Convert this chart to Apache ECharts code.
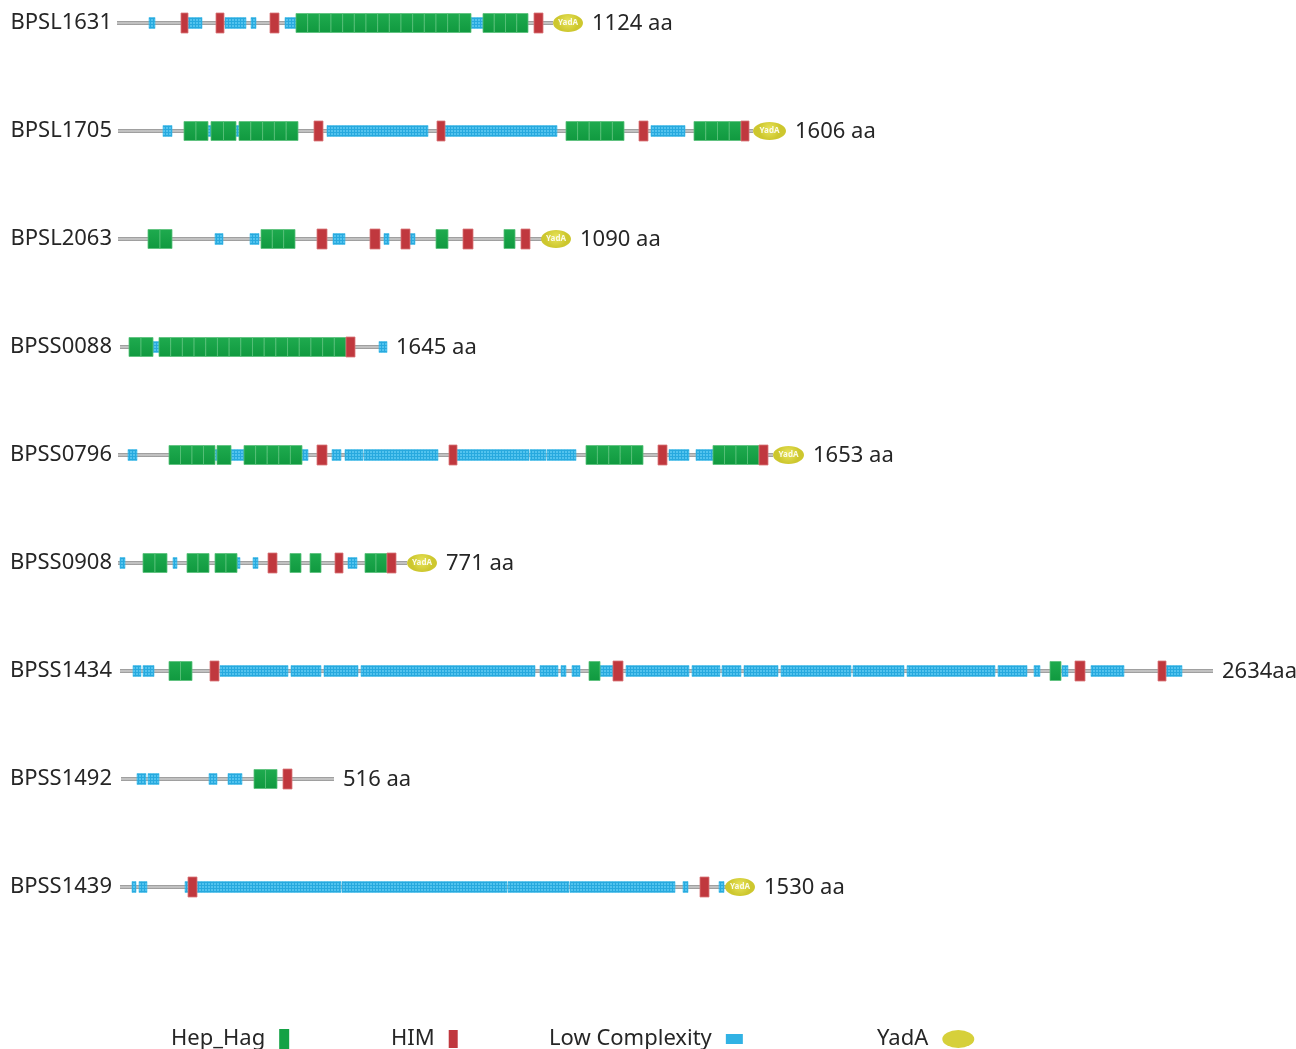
<!DOCTYPE html>
<html>
<head>
<meta charset="utf-8">
<title>Hep_Hag domain architecture</title>
<script src="https://cdn.jsdelivr.net/npm/echarts@6/dist/echarts.min.js"></script>
<style>
  html, body { margin: 0; padding: 0; background: #fff; }
  #chart { width: 1296px; height: 1049px; }
</style>
</head>
<body>
<div id="chart"></div>
<script>
    const proteins = ['BPSL1631', 'BPSL1705', 'BPSL2063', 'BPSS0088', 'BPSS0796',
        'BPSS0908', 'BPSS1434', 'BPSS1492', 'BPSS1439'];
    const lengthLabels = ['1124 aa', '1606 aa', '1090 aa', '1645 aa', '1653 aa',
        '771 aa', '2634aa', '516 aa', '1530 aa'];

    // [row, start, end] of the grey backbone line
    const backbone = [
        [0, 117, 553], [1, 118, 753], [2, 118, 542], [3, 120, 379], [4, 118, 773],
        [5, 118, 407], [6, 120, 1213], [7, 121, 334], [8, 120, 726]
    ];

    // [row, start, end, number of repeats]
    const hepHag = [
        [0, 296, 471, 15], [0, 483, 528, 4],
        [1, 184, 208, 2], [1, 211, 236, 2], [1, 239, 298, 5], [1, 566, 624, 5], [1, 694, 741, 4],
        [2, 148, 172, 2], [2, 261, 295, 3], [2, 436, 448, 1], [2, 504, 515, 1],
        [3, 129, 153, 2], [3, 159, 346, 16],
        [4, 169, 215, 4], [4, 217, 231, 1], [4, 244, 302, 5], [4, 586, 643, 5], [4, 713, 759, 4],
        [5, 143, 167, 2], [5, 187, 209, 2], [5, 215, 237, 2], [5, 290, 301, 1], [5, 310, 321, 1], [5, 365, 387, 2],
        [6, 169, 192, 2], [6, 589, 600, 1], [6, 1050, 1061, 1],
        [7, 254, 277, 2]
    ];

    // [row, start, end]
    const him = [
        [0, 181, 188], [0, 216, 224], [0, 270, 279], [0, 534, 543],
        [1, 314, 323], [1, 437, 445], [1, 639, 648], [1, 741, 749],
        [2, 317, 327], [2, 370, 380], [2, 401, 410], [2, 463, 473], [2, 521, 530],
        [3, 346, 355],
        [4, 317, 327], [4, 449, 457], [4, 658, 667], [4, 759, 768],
        [5, 268, 277], [5, 335, 343], [5, 387, 396],
        [6, 210, 219], [6, 613, 623], [6, 1075, 1085], [6, 1158, 1166],
        [7, 283, 292],
        [8, 188, 197], [8, 700, 709]
    ];

    const lowComplexity = [
        [0, 149, 155], [0, 188, 202], [0, 225, 246], [0, 251, 256], [0, 285, 296], [0, 471, 483],
        [1, 163, 172], [1, 206, 212], [1, 235, 240], [1, 327, 428], [1, 445, 557], [1, 651, 685],
        [2, 215, 223], [2, 250, 259], [2, 333, 345], [2, 384, 389], [2, 410, 415],
        [3, 153, 159], [3, 379, 387],
        [4, 128, 137], [4, 214, 218], [4, 231, 244], [4, 302, 308], [4, 332, 341], [4, 345, 363],
        [4, 364, 438], [4, 457, 529], [4, 530, 546], [4, 547, 576], [4, 669, 689], [4, 696, 713],
        [5, 120, 125], [5, 173, 177], [5, 237, 240], [5, 253, 258], [5, 348, 357],
        [6, 133, 141], [6, 143, 154], [6, 220, 288], [6, 291, 321], [6, 324, 358], [6, 361, 535],
        [6, 540, 558], [6, 561, 566], [6, 572, 580], [6, 600, 613], [6, 626, 689], [6, 692, 720],
        [6, 722, 741], [6, 744, 778], [6, 781, 851], [6, 853, 904], [6, 907, 995], [6, 998, 1027],
        [6, 1034, 1040], [6, 1062, 1068], [6, 1091, 1124], [6, 1166, 1182],
        [7, 137, 146], [7, 148, 159], [7, 209, 217], [7, 228, 242],
        [8, 132, 136], [8, 139, 147], [8, 185, 189], [8, 197, 341], [8, 342, 507], [8, 508, 569],
        [8, 570, 675], [8, 683, 688], [8, 719, 724]
    ];

    const yadA = [
        [0, 553, 583], [1, 753, 786], [2, 541, 571], [4, 773, 804], [5, 407, 437], [8, 725, 755]
    ];

    const FONT = 'Noto Sans';
    const GREEN = '#15a246', RED = '#c0383e', BLUE = '#31b2e4', YELLOW = '#d6d03a';

    // small mesh texture for the low complexity regions
    let pat = document.createElement('canvas');
    pat.width = 3;
    pat.height = 3;
    let pctx = pat.getContext('2d');
    pctx.fillStyle = '#52c3ee';
    pctx.fillRect(0, 0, 3, 3);
    pctx.fillStyle = '#27a9de';
    pctx.fillRect(0, 0, 3, 1);
    pctx.fillRect(0, 0, 1, 3);

    // right end of every row, for the length label
    let rowEnd = backbone.map(b => b[2]);
    [hepHag, him, lowComplexity, yadA].forEach(list => list.forEach(d => {
        rowEnd[d[0]] = Math.max(rowEnd[d[0]], d[2]);
    }));
    const lengthData = lengthLabels.map((t, i) => [i, rowEnd[i], rowEnd[i]]);

    function span(api) {
        let a = api.coord([api.value(1), api.value(0)]);
        let b = api.coord([api.value(2), api.value(0)]);
        return {x: a[0], y: a[1], w: b[0] - a[0]};
    }

    let dom = document.getElementById('chart');
    let myChart = echarts.init(dom);

    let legendBase = {
        top: 1028,
        padding: 0,
        align: 'right',
        selectedMode: false,
        textStyle: {fontFamily: FONT, fontSize: 22, color: '#262626', padding: [0, 9, 0, 0]}
    };

    let option = {
        animation: false,
        grid: {left: 0, right: 0, top: 23, bottom: 162},
        xAxis: {type: 'value', min: 0, max: 1296, show: false},
        yAxis: {
            type: 'category',
            data: proteins,
            inverse: true,
            boundaryGap: false,
            offset: -118,
            axisLine: {show: false},
            axisTick: {show: false},
            splitLine: {show: false},
            axisLabel: {margin: 6, fontFamily: FONT, fontSize: 22, color: '#262626'}
        },
        legend: [
            Object.assign({}, legendBase, {
                left: 171, data: [{name: 'Hep_Hag', icon: 'rect'}], itemWidth: 10, itemHeight: 20
            }),
            Object.assign({}, legendBase, {
                left: 391, data: [{name: 'HIM', icon: 'rect'}], itemWidth: 9, itemHeight: 18
            }),
            Object.assign({}, legendBase, {
                left: 549, data: [{name: 'Low Complexity', icon: 'rect'}], itemWidth: 17, itemHeight: 10
            }),
            Object.assign({}, legendBase, {
                left: 877,
                data: [{name: 'YadA', icon: 'path://M0,9a16,9 0 1,0 32,0a16,9 0 1,0 -32,0z'}],
                itemWidth: 32, itemHeight: 18
            })
        ],
        series: [
            {
                name: 'backbone',
                type: 'custom',
                encode: {x: [1, 2], y: 0},
                data: backbone,
                renderItem: function (params, api) {
                    let s = span(api);
                    return {
                        type: 'rect',
                        shape: {x: s.x, y: s.y - 2, width: s.w, height: 4},
                        style: {
                            fill: new echarts.graphic.LinearGradient(0, 0, 0, 1, [
                                {offset: 0, color: '#8f8f8f'},
                                {offset: 0.5, color: '#d2d2d2'},
                                {offset: 1, color: '#8f8f8f'}
                            ])
                        }
                    };
                }
            },
            {
                name: 'Low Complexity',
                type: 'custom',
                itemStyle: {color: BLUE},
                encode: {x: [1, 2], y: 0},
                data: lowComplexity,
                renderItem: function (params, api) {
                    let s = span(api);
                    return {
                        type: 'rect',
                        shape: {x: s.x, y: s.y - 5.5, width: s.w, height: 11},
                        style: {fill: {image: pat, repeat: 'repeat'}, stroke: '#3fb8e6', lineWidth: 0.6}
                    };
                }
            },
            {
                name: 'Hep_Hag',
                type: 'custom',
                itemStyle: {color: GREEN},
                encode: {x: [1, 2], y: 0},
                data: hepHag,
                renderItem: function (params, api) {
                    let s = span(api);
                    let n = api.value(3);
                    let bw = s.w / n;
                    let kids = [];
                    for (let k = 0; k < n; k++) {
                        kids.push({
                            type: 'rect',
                            shape: {x: s.x + k * bw, y: s.y - 9.5, width: bw, height: 19},
                            style: {
                                fill: new echarts.graphic.LinearGradient(0, 0, 0, 1, [
                                    {offset: 0, color: '#1fab4f'},
                                    {offset: 1, color: '#10993f'}
                                ]),
                                stroke: '#5bc27b',
                                lineWidth: 0.8
                            }
                        });
                    }
                    return {type: 'group', children: kids};
                }
            },
            {
                name: 'HIM',
                type: 'custom',
                itemStyle: {color: RED},
                encode: {x: [1, 2], y: 0},
                data: him,
                renderItem: function (params, api) {
                    let s = span(api);
                    return {
                        type: 'rect',
                        shape: {x: s.x, y: s.y - 10, width: s.w, height: 20},
                        style: {fill: RED, stroke: '#d9767a', lineWidth: 0.8}
                    };
                }
            },
            {
                name: 'YadA',
                type: 'custom',
                itemStyle: {color: YELLOW},
                encode: {x: [1, 2], y: 0},
                data: yadA,
                renderItem: function (params, api) {
                    let s = span(api);
                    return {
                        type: 'group',
                        children: [
                            {
                                type: 'ellipse',
                                shape: {cx: s.x + s.w / 2, cy: s.y, rx: s.w / 2, ry: 9},
                                style: {
                                    fill: new echarts.graphic.RadialGradient(0.5, 0.4, 0.6, [
                                        {offset: 0, color: '#e8e35a'},
                                        {offset: 1, color: '#cdc72e'}
                                    ])
                                }
                            },
                            {
                                type: 'text',
                                style: {
                                    x: s.x + s.w / 2, y: s.y, text: 'YadA',
                                    align: 'center', verticalAlign: 'middle',
                                    fill: '#fbfbe8', font: 'bold 8px "' + FONT + '"'
                                }
                            }
                        ]
                    };
                }
            },
            {
                name: 'length',
                type: 'custom',
                encode: {x: [1, 2], y: 0},
                data: lengthData,
                renderItem: function (params, api) {
                    let s = span(api);
                    return {
                        type: 'text',
                        style: {
                            x: s.x + 9, y: s.y + 1, text: lengthLabels[params.dataIndex],
                            align: 'left', verticalAlign: 'middle',
                            fill: '#262626', font: '22px "' + FONT + '"'
                        }
                    };
                }
            }
        ]
    };
    if (option && typeof option === 'object') {
        myChart.setOption(option, true);
    }
</script>
</body>
</html>
